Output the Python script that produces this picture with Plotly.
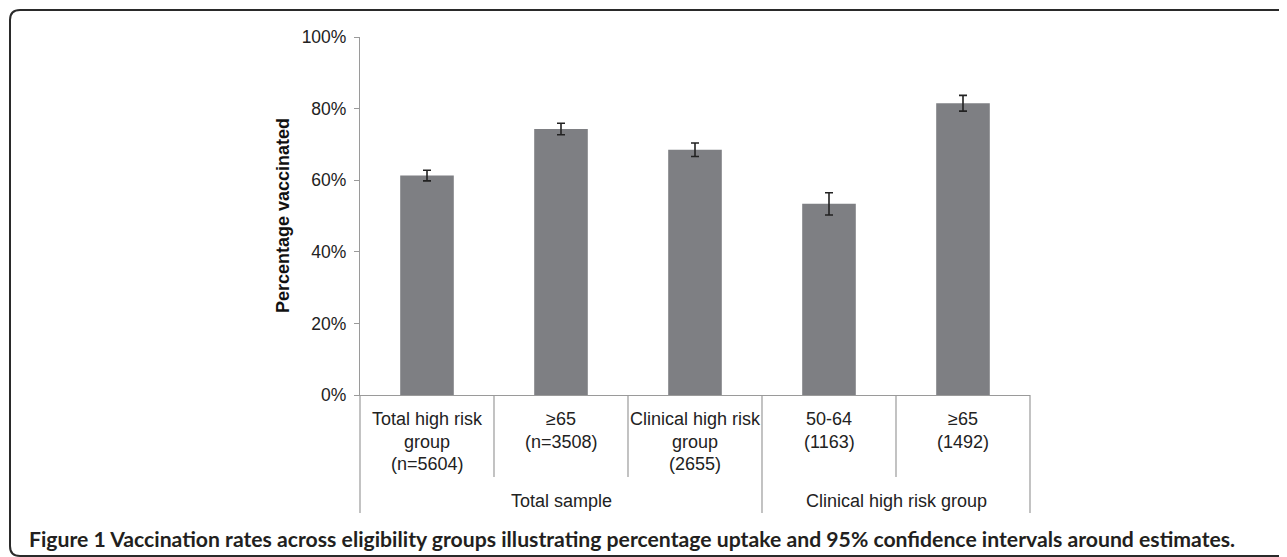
import plotly.graph_objects as go

# ---- data ----
categories = ["Total high risk<br>group<br>(n=5604)", "≥65<br>(n=3508)",
              "Clinical high risk<br>group<br>(2655)", "50-64<br>(1163)", "≥65<br>(1492)"]
values = [61.3, 74.3, 68.5, 53.4, 81.5]
ci_err = [1.5, 1.6, 1.9, 3.1, 2.2]
groups = ["Total sample", "Clinical high risk group"]
group_sizes = [3, 2]
y_ticks = [0, 20, 40, 60, 80, 100]
y_tick_labels = ["0%", "20%", "40%", "60%", "80%", "100%"]
caption = "Figure 1 Vaccination rates across eligibility groups illustrating percentage uptake and 95% confidence intervals around estimates."

OFF = 8  # page body margin offset
W, H = 1287 - OFF, 557 - OFF
L, R, T, B = 360 - OFF, 257, 37 - OFF, 162
PW, PH = W - L - R, H - T - B

def px(xpix):
    return (xpix - OFF - L) / PW

def py(ypix):
    return (H - B - (ypix - OFF)) / PH

n = len(categories)
xs = list(range(n))

fig = go.Figure()
fig.add_trace(go.Bar(
    x=xs, y=values, width=0.4,
    marker=dict(color="#7e7f83", line=dict(width=0)),
    error_y=dict(type="data", array=ci_err, visible=True,
                 color="#222222", thickness=1.6, width=4),
    showlegend=False, hoverinfo="skip",
))

shapes = []
annotations = []

# category label lines
for i, lab in enumerate(categories):
    for j, line in enumerate(lab.split("<br>")):
        annotations.append(dict(
            x=i, xref="x", y=py(419 + j * 22.5), yref="paper",
            text=line, showarrow=False, xanchor="center", yanchor="middle",
            font=dict(family="Liberation Sans, Arial", size=18, color="#222222"),
        ))

# dividers
boundaries = [-0.5 + k for k in range(n + 1)]
group_edges = [-0.5]
acc = -0.5
for s in group_sizes:
    acc += s
    group_edges.append(acc)
for b in boundaries:
    bottom = 513 if b in group_edges else 477
    xp = (b + 0.5) / n
    shapes.append(dict(type="line", xref="paper", yref="paper",
                       x0=xp, x1=xp, y0=py(395), y1=py(bottom),
                       line=dict(color="#9a9a9a", width=1.2)))

# group labels
start = -0.5
for g, s in zip(groups, group_sizes):
    center = start + s / 2
    annotations.append(dict(
        x=center, xref="x", y=py(501), yref="paper",
        text=g, showarrow=False, xanchor="center", yanchor="middle",
        font=dict(family="Liberation Sans, Arial", size=18, color="#222222"),
    ))
    start += s

# y title
annotations.append(dict(
    x=px(283), xref="paper", y=0.5, yref="paper",
    text="<b>Percentage vaccinated</b>", showarrow=False, textangle=-90,
    xanchor="center", yanchor="middle",
    font=dict(family="Liberation Sans, Arial", size=18, color="#111111"),
))

# caption
annotations.append(dict(
    x=px(27), xref="paper", y=py(539), yref="paper",
    text="<b>" + caption + "</b>", showarrow=False,
    xanchor="left", yanchor="middle",
    font=dict(family="Lato", size=21.2, color="#231f20"),
))

# rounded frame
x0, y0, x1, y1, r = px(10), py(10), px(1300), py(556), 10
rx, ry = r / PW, r / PH
path = (f"M {x1},{y0} L {x0+rx},{y0} Q {x0},{y0} {x0},{y0-ry} "
        f"L {x0},{y1+ry} Q {x0},{y1} {x0+rx},{y1} L {x1},{y1}")
shapes.append(dict(type="path", xref="paper", yref="paper", path=path,
                   line=dict(color="#2a2a2a", width=2)))

fig.update_layout(
    width=W, height=H,
    margin=dict(l=L, r=R, t=T, b=B, pad=0),
    paper_bgcolor="white", plot_bgcolor="white",
    xaxis=dict(range=[-0.5, n - 0.5], showticklabels=False, showgrid=False,
               zeroline=False, showline=True, linecolor="#9a9a9a", linewidth=1.2,
               ticks="", fixedrange=True),
    yaxis=dict(range=[0, 100], tickvals=y_ticks, ticktext=y_tick_labels,
               showgrid=False, zeroline=False, showline=True,
               linecolor="#9a9a9a", linewidth=1.2, ticks="outside", ticklen=5,
               tickcolor="#9a9a9a", tickfont=dict(family="Liberation Sans, Arial",
                                                  size=17.5, color="#222222"),
               ticklabelstandoff=4, fixedrange=True),
    shapes=shapes, annotations=annotations,
    bargap=0.6,
)

fig.write_html("out.html")
